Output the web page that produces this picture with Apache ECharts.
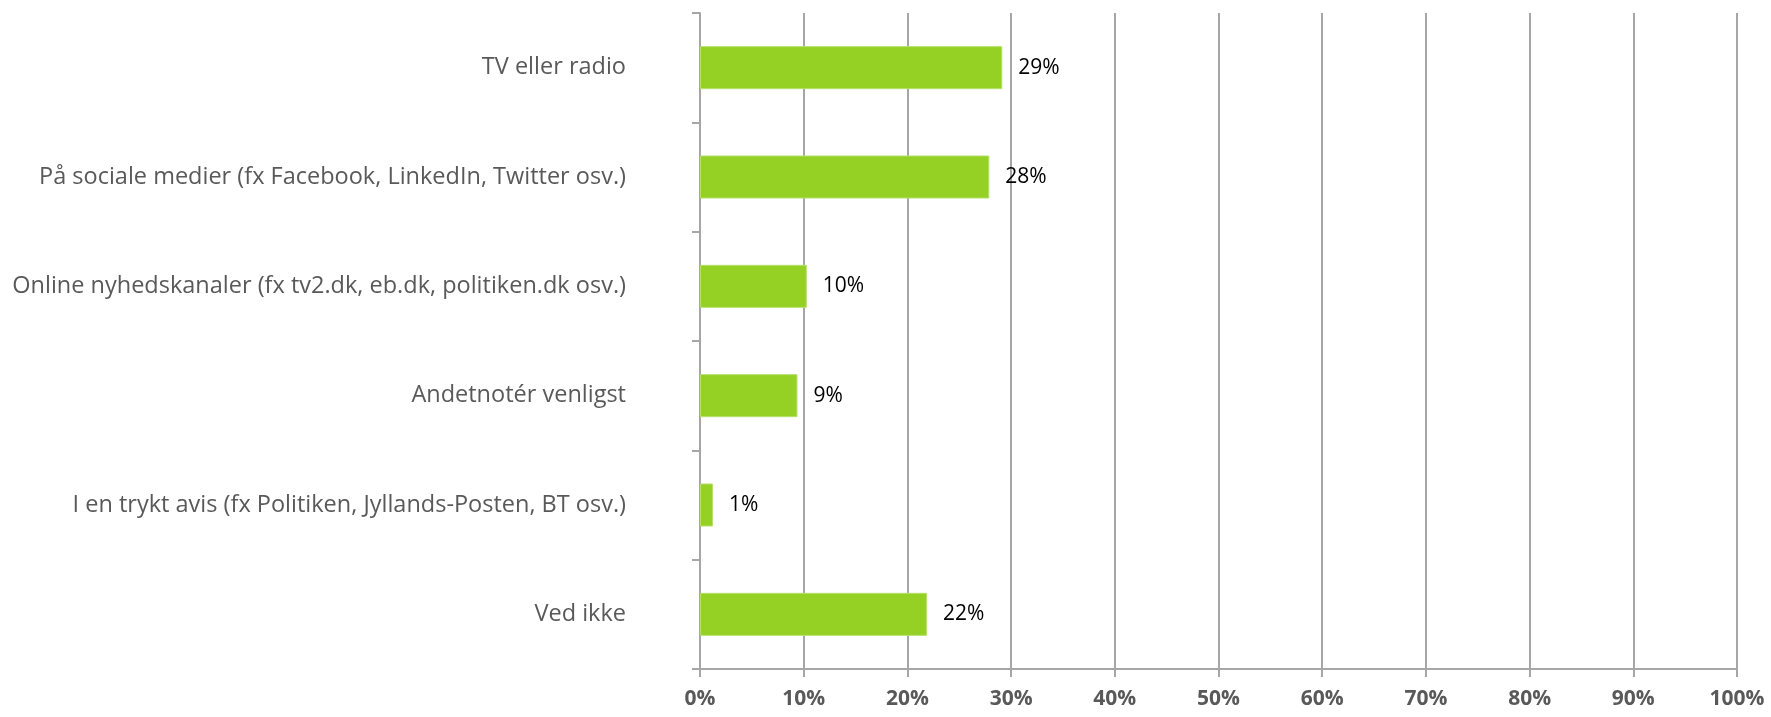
<!DOCTYPE html>
<html>
<head>
<meta charset="utf-8">
<script src="https://cdn.jsdelivr.net/npm/echarts@6/dist/echarts.min.js"></script>
<style>
html,body{margin:0;padding:0;background:#fff;}
#chart{width:1771px;height:717px;}
</style>
</head>
<body>
<div id="chart"></div>
<script>
const categories = [
  "TV eller radio",
  "På sociale medier (fx Facebook, LinkedIn, Twitter osv.)",
  "Online nyhedskanaler (fx tv2.dk, eb.dk, politiken.dk osv.)",
  "Andetnotér venligst",
  "I en trykt avis (fx Politiken, Jyllands-Posten, BT osv.)",
  "Ved ikke"
];
const values = [29.15, 27.9, 10.3, 9.4, 1.25, 21.9];
const xTicks = [0, 10, 20, 30, 40, 50, 60, 70, 80, 90, 100];

const chart = echarts.init(document.getElementById('chart'), null, {renderer: 'canvas'});
chart.setOption({
  animation: false,
  backgroundColor: '#ffffff',
  grid: {left: 700, right: 34, top: 13, bottom: 48, containLabel: false},
  xAxis: {
    type: 'value',
    min: xTicks[0],
    max: xTicks[xTicks.length - 1],
    interval: 10,
    axisLine: {show: true, lineStyle: {color: '#A6A6A6', width: 2}},
    axisTick: {show: true, length: 8, lineStyle: {color: '#A6A6A6', width: 2}},
    splitLine: {show: true, lineStyle: {color: '#A6A6A6', width: 2}},
    axisLabel: {
      margin: 20,
      formatter: v => v + '%',
      color: '#595959',
      fontFamily: 'Open Sans',
      fontWeight: 'bold',
      fontSize: 21
    }
  },
  yAxis: {
    type: 'category',
    inverse: true,
    data: categories,
    axisLine: {show: true, lineStyle: {color: '#A6A6A6', width: 2}},
    axisTick: {show: true, length: 8, lineStyle: {color: '#A6A6A6', width: 2}},
    axisLabel: {
      margin: 74,
      color: '#595959',
      fontFamily: 'Open Sans',
      fontSize: 23.5
    }
  },
  series: [{
    type: 'bar',
    data: values,
    barWidth: 43,
    itemStyle: {color: '#95D024', borderColor: '#B4E06A', borderWidth: 1},
    label: {
      show: true,
      position: 'right',
      distance: 16,
      formatter: p => Math.round(p.value) + '%',
      color: '#000000',
      fontFamily: 'Open Sans',
      fontSize: 21
    }
  }]
});
</script>
</body>
</html>
